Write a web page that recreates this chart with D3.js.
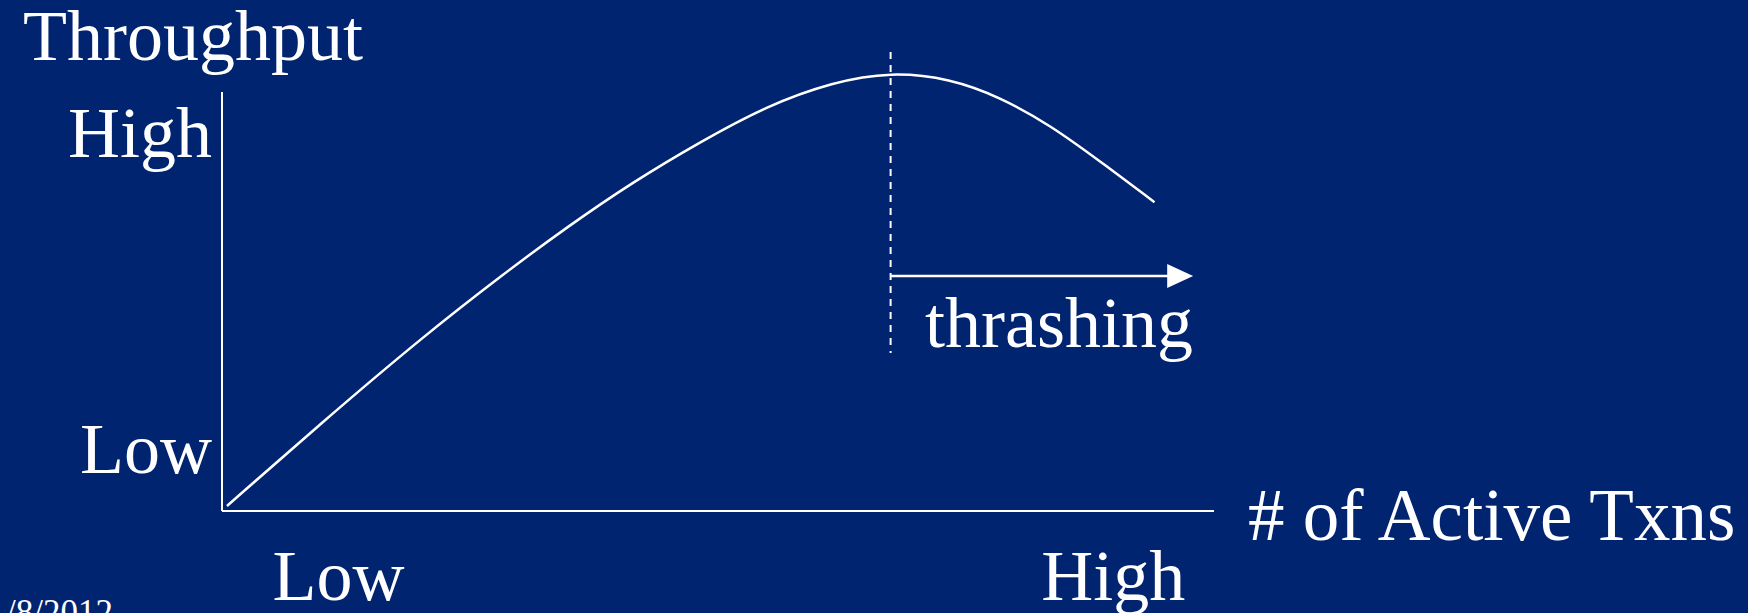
<!DOCTYPE html>
<html>
<head>
<meta charset="utf-8">
<script src="https://cdn.jsdelivr.net/npm/d3@7"></script>
<style>
  html, body { margin: 0; padding: 0; background: #002470; overflow: hidden; }
  svg { display: block; }
  text { font-family: "Liberation Serif", Tinos, "Times New Roman", Times, serif; fill: #ffffff; }
</style>
</head>
<body>
<svg id="chart" width="1748" height="613"></svg>
<script>
// Load (number of active transactions) on a 0-100 scale
const activeTxns = [0.5, 10.1, 20.2, 28.5, 34.8, 41.4, 48.2, 54.9, 61.6, 67.4, 73.4, 78.4, 83.5, 88.5, 94.0];
// Throughput at each load level, same 0-100 scale
const throughput = [1.2, 21.2, 41.5, 56.8, 67.8, 78.5, 88.1, 96.7, 102.4, 104.8, 103.2, 98.8, 92.1, 83.5, 73.7];

// Qualitative tick labels and where they sit on each axis
const tickLabels = ["Low", "High"];
const xTickValues = [11.7, 89.8];
const yTickValues = [14.8, 90.0];

// Load at which throughput peaks and thrashing begins, and where the arrow ends
const thrashingStart = 67.4;
const thrashingArrowEnd = 97.9;
const thrashingArrowLevel = 56.1;

const SERIF = '"Liberation Serif", Tinos, "Times New Roman", Times, serif';

const svg = d3.select("#chart");
const W = 1748, H = 613;

svg.append("rect").attr("width", W).attr("height", H).attr("fill", "#002470");

const x = d3.scaleLinear().domain([0, 100]).range([222, 1214]);
const y = d3.scaleLinear().domain([0, 100]).range([511, 92]);

const fontSize = 72;

// Axis lines
svg.append("line")
  .attr("x1", x(0)).attr("x2", x(0))
  .attr("y1", y(100)).attr("y2", y(0))
  .attr("stroke", "#fff").attr("stroke-width", 2);
svg.append("line")
  .attr("x1", x(0)).attr("x2", x(100))
  .attr("y1", y(0)).attr("y2", y(0))
  .attr("stroke", "#fff").attr("stroke-width", 2);

// Y axis tick labels
const yAxis = d3.axisLeft(y)
  .tickValues(yTickValues)
  .tickFormat((d, i) => tickLabels[i])
  .tickSize(0)
  .tickPadding(10);
const gy = svg.append("g").attr("transform", `translate(${x(0)},0)`).call(yAxis);
gy.attr("font-family", null).attr("font-size", null);
gy.select(".domain").remove();
gy.selectAll("text")
  .attr("fill", "#fff")
  .style("font-family", SERIF)
  .style("font-size", fontSize + "px");

// X axis tick labels
const xAxis = d3.axisBottom(x)
  .tickValues(xTickValues)
  .tickFormat((d, i) => tickLabels[i])
  .tickSize(0)
  .tickPadding(38);
const gx = svg.append("g").attr("transform", `translate(0,${y(0)})`).call(xAxis);
gx.attr("font-family", null).attr("font-size", null);
gx.select(".domain").remove();
gx.selectAll("text")
  .attr("fill", "#fff")
  .style("font-family", SERIF)
  .style("font-size", fontSize + "px");

// Axis titles
svg.append("text")
  .attr("x", 23).attr("y", 60)
  .style("font-family", SERIF)
  .style("font-size", fontSize + "px")
  .text("Throughput");
svg.append("text")
  .attr("x", 1248).attr("y", 540)
  .style("font-family", SERIF)
  .style("font-size", "73px")
  .text("# of Active Txns");

// Throughput curve
const points = activeTxns.map((v, i) => [v, throughput[i]]);
const line = d3.line()
  .x(d => x(d[0]))
  .y(d => y(d[1]))
  .curve(d3.curveBasis);
svg.append("path")
  .datum(points)
  .attr("d", line)
  .attr("fill", "none")
  .attr("stroke", "#fff")
  .attr("stroke-width", 2.5);

// Dashed marker at the peak
svg.append("line")
  .attr("x1", x(thrashingStart)).attr("x2", x(thrashingStart))
  .attr("y1", 52).attr("y2", 353)
  .attr("stroke", "#fff").attr("stroke-width", 2)
  .attr("stroke-dasharray", "7,6");

// Thrashing arrow
const arrowY = y(thrashingArrowLevel);
const tipX = x(thrashingArrowEnd);
svg.append("line")
  .attr("x1", x(thrashingStart)).attr("x2", tipX - 24)
  .attr("y1", arrowY).attr("y2", arrowY)
  .attr("stroke", "#fff").attr("stroke-width", 2.5);
svg.append("path")
  .attr("d", `M${tipX},${arrowY} L${tipX - 26},${arrowY - 12} L${tipX - 26},${arrowY + 12} Z`)
  .attr("fill", "#fff");

svg.append("text")
  .attr("x", 925).attr("y", 347)
  .style("font-family", SERIF)
  .style("font-size", fontSize + "px")
  .text("thrashing");

// Footer date
svg.append("text")
  .attr("x", 6).attr("y", 624)
  .style("font-family", SERIF)
  .style("font-size", "35px")
  .text("/8/2012");
</script>
</body>
</html>
